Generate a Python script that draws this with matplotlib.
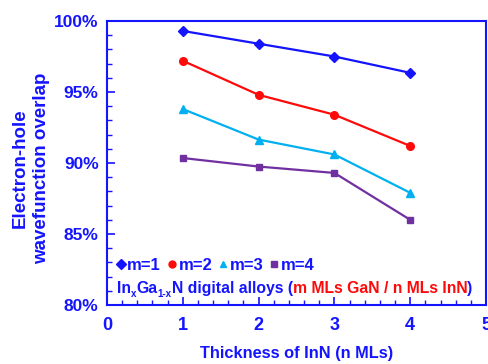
import matplotlib
matplotlib.use("Agg")
import matplotlib.pyplot as plt
from matplotlib.ticker import MultipleLocator, FuncFormatter

n_mls = [1, 2, 3, 4]
m1 = [99.3, 98.4, 97.5, 96.35]
m2 = [97.2, 94.8, 93.4, 91.2]
m3 = [93.8, 91.65, 90.6, 87.9]
m4 = [90.35, 89.75, 89.3, 86.0]
labels = ["m=1", "m=2", "m=3", "m=4"]

BLUE = "#1414ff"
RED = "#ff0a0a"
plt.rcParams["font.family"] = ["Liberation Sans", "DejaVu Sans"]
plt.rcParams["font.weight"] = "bold"

fig = plt.figure(figsize=(4.88, 3.64), dpi=100)
ax = fig.add_axes([107 / 488, 1 - 305 / 364, 379 / 488, 284 / 364])

styles = [
    (m1, BLUE, "D", 5),
    (m2, RED, "o", 5.5),
    (m3, "#00b0f0", "^", 5.5),
    (m4, "#7030a0", "s", 5),
]
handles = []
for (vals, col, mk, ms), lab in zip(styles, labels):
    h, = ax.plot(n_mls, vals, color=col, marker=mk, markersize=ms, lw=1.6, label=lab)
    handles.append(h)

ax.set_xlim(0, 5)
ax.set_ylim(80, 100)
ax.xaxis.set_major_locator(MultipleLocator(1))
ax.xaxis.set_minor_locator(MultipleLocator(0.2))
ax.yaxis.set_major_locator(MultipleLocator(5))
ax.yaxis.set_minor_locator(MultipleLocator(1))
ax.yaxis.set_major_formatter(FuncFormatter(lambda v, p: f"{v:.0f}%"))

for s in ax.spines.values():
    s.set_color(BLUE)
    s.set_linewidth(1.5)
ax.tick_params(which="both", direction="in", colors=BLUE, top=False, right=False)
ax.tick_params(which="major", length=6, width=1.2, labelsize=12.5)
ax.tick_params(axis="y", which="major", pad=6)
ax.tick_params(axis="x", which="major", pad=9, labelsize=13)
ax.tick_params(which="minor", length=3.5, width=1)
for t in ax.get_xticklabels() + ax.get_yticklabels():
    t.set_color(BLUE)
    t.set_fontweight("bold")

ax.set_xlabel("Thickness of InN (n MLs)", color=BLUE, fontsize=11.8, fontweight="bold", labelpad=8)
fig.text(20 / 488, 1 - 168 / 364, "Electron-hole", rotation=90, color=BLUE, fontsize=13.5,
         fontweight="bold", ha="center", va="center")
fig.text(42 / 488, 1 - 168 / 364, "wavefunction overlap", rotation=90, color=BLUE, fontsize=13.5,
         fontweight="bold", ha="center", va="center")

leg = ax.legend(handles=handles, loc="center left", bbox_to_anchor=(0.025, 1 - (265 - 21) / 284), ncol=4,
                frameon=False, handlelength=0.5, handletextpad=0.15, columnspacing=0.4,
                borderaxespad=0, borderpad=0, prop={"weight": "bold", "size": 12})
for h in leg.legend_handles:
    h.set_linestyle("none")
    h.set_markersize(5)
for t in leg.get_texts():
    t.set_color(BLUE)

# caption built from consecutive pieces (normal text, subscripts, red part)
fig.canvas.draw()
r = fig.canvas.get_renderer()
pieces = [
    ("In", BLUE, 11.3, 0),
    ("x", BLUE, 7, -4),
    ("Ga", BLUE, 11.3, 0),
    ("1-x", BLUE, 7, -4),
    ("N digital alloys (", BLUE, 11.3, 0),
    ("m MLs GaN / n MLs InN", RED, 11.3, 0),
    (")", BLUE, 11.3, 0),
]
xpix = 117
base = 364 - 293
for txt, col, size, dy in pieces:
    t = fig.text(xpix / 488, (base + dy) / 364, txt, color=col, fontsize=size,
                 fontweight="bold", ha="left", va="baseline")
    bb = t.get_window_extent(r)
    xpix = bb.x1

fig.savefig("out.png", dpi=100)
